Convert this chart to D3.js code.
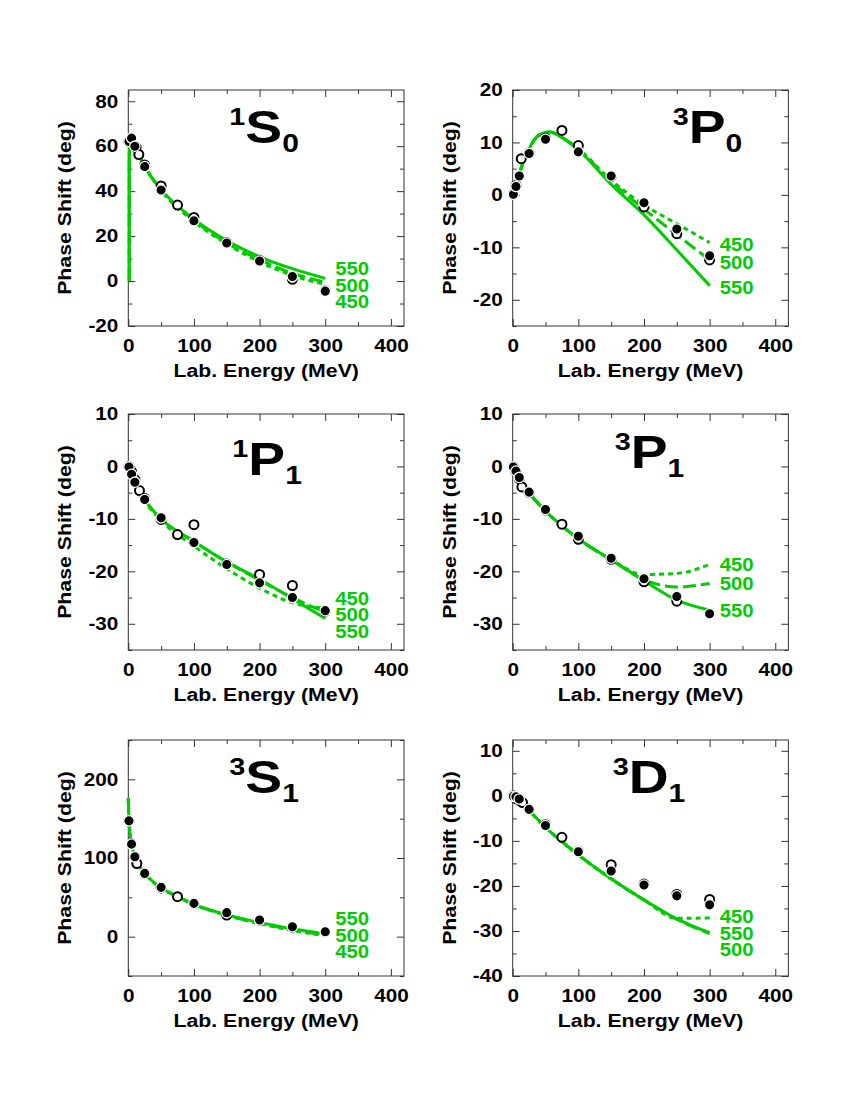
<!DOCTYPE html>
<html>
<head>
<meta charset="utf-8">
<script src="https://cdn.jsdelivr.net/npm/d3@7"></script>
<style>
body { margin: 0; background: #fff; }
</style>
</head>
<body>
<div id="chart"></div>
<script>
// ---- data ----
// 1S0
var s10FilledE = [1, 5, 10, 25, 50, 100, 150, 200, 250, 300];
var s10Filled  = [62.1, 63.6, 60.0, 50.9, 40.5, 26.8, 16.9, 8.9, 2.0, -4.5];
var s10OpenE   = [1, 12, 16, 25, 50, 75, 100, 150, 200, 250, 300];
var s10Open    = [62.0, 59.5, 56.3, 51.6, 42.3, 33.8, 28.3, 17.2, 9.2, 0.8, -4.3];
var s10CurveE  = [1.5, 1.6, 5, 10, 25, 50, 100, 150, 200, 250, 300];
var s10C450    = [0, 57, 63.5, 60, 51, 40.3, 26.5, 16.5, 8.5, 2.5, -1.5];
var s10C500    = [0, 57, 63.5, 60, 51, 40.5, 27.0, 17.0, 9.5, 3.5, -0.5];
var s10C550    = [0, 57, 63.5, 60, 51, 40.8, 27.5, 18.0, 10.8, 5.5, 1.2];

// 3P0
var p30FilledE = [1, 5, 10, 25, 50, 100, 150, 200, 250, 300];
var p30Filled  = [0.1, 1.6, 3.6, 7.9, 10.6, 8.2, 3.6, -1.5, -6.5, -11.6];
var p30OpenE   = [1, 5, 13, 25, 50, 75, 100, 150, 200, 250, 300];
var p30Open    = [0.2, 1.8, 6.9, 8.0, 10.8, 12.3, 9.4, 3.5, -2.3, -7.4, -12.4];
var p30CurveE  = [0, 5, 10, 25, 40, 57, 75, 100, 150, 200, 250, 300];
var p30C450    = [0, 1.8, 4.0, 8.8, 11.4, 12.0, 11.0, 8.8, 2.8, -1.9, -5.5, -9.1];
var p30C500    = [0, 1.8, 4.0, 8.8, 11.4, 12.0, 11.0, 8.7, 2.5, -2.7, -7.6, -12.4];
var p30C550    = [0, 1.8, 4.0, 8.8, 11.4, 12.0, 10.9, 8.6, 2.0, -3.8, -10.5, -17.3];

// 1P1
var p11FilledE = [1, 5, 10, 25, 50, 100, 150, 200, 250, 300];
var p11Filled  = [-0.1, -1.5, -3.0, -6.3, -9.8, -14.5, -18.7, -22.2, -25.0, -27.5];
var p11OpenE   = [1, 5, 10, 17, 25, 50, 75, 100, 150, 200, 250, 300];
var p11Open    = [0, -1.0, -2.5, -4.6, -6.1, -10.1, -13.0, -11.1, -18.6, -20.6, -22.7, -27.6];
var p11CurveE  = [0, 10, 25, 50, 100, 150, 200, 250, 300];
var p11C450    = [0, -2.8, -6.5, -10.3, -15.2, -19.5, -23.2, -26.0, -27.0];
var p11C500    = [0, -2.8, -6.3, -10.0, -14.3, -18.2, -21.7, -25.0, -27.8];
var p11C550    = [0, -2.8, -6.3, -10.0, -14.3, -18.2, -21.5, -25.2, -29.0];

// 3P1
var p31FilledE = [1, 5, 10, 25, 50, 100, 150, 200, 250, 300];
var p31Filled  = [-0.1, -0.9, -2.1, -4.9, -8.2, -13.3, -17.5, -21.4, -24.8, -28.1];
var p31OpenE   = [1, 5, 10, 14, 25, 50, 75, 100, 150, 200, 250];
var p31Open    = [0, -1.0, -2.3, -3.9, -5.0, -8.3, -11.0, -13.9, -17.7, -22.0, -25.7];
var p31CurveE  = [0, 10, 25, 50, 100, 150, 200, 250, 300];
var p31C450    = [0, -2.2, -5.0, -8.5, -13.8, -17.8, -20.6, -20.4, -18.7];
var p31C500    = [0, -2.2, -5.0, -8.5, -13.8, -17.8, -21.6, -23.0, -22.3];
var p31C550    = [0, -2.2, -5.0, -8.5, -13.8, -17.8, -21.8, -25.5, -27.4];

// 3S1
var s31FilledE = [1, 5, 10, 25, 50, 100, 150, 200, 250, 300];
var s31Filled  = [147.2, 117.6, 101.5, 80.4, 62.7, 42.3, 30.5, 21.2, 12.7, 6.3];
var s31OpenE   = [1, 5, 13, 25, 50, 75, 100, 150, 200, 250];
var s31Open    = [147, 118, 93, 80, 62, 50.8, 42, 27.5, 21, 12];
var s31CurveE  = [0, 1, 5, 10, 25, 50, 75, 100, 150, 200, 250, 300];
var s31C450    = [176, 148, 118, 102, 81, 62, 51, 41, 27, 16.5, 8, 1];
var s31C500    = [176, 148, 118, 102, 81, 62, 51, 41, 27.5, 17, 9, 2];
var s31C550    = [176, 148, 118, 102, 81, 62, 51, 41, 28, 18, 10, 3.5];

// 3D1
var d31FilledE = [1, 5, 10, 25, 50, 100, 150, 200, 250, 300];
var d31Filled  = [-0.1, -0.2, -0.7, -3.0, -6.6, -12.4, -16.7, -19.8, -22.2, -24.2];
var d31OpenE   = [1, 5, 10, 15, 25, 50, 75, 100, 150, 200, 250, 300];
var d31Open    = [0, -0.6, -1.0, -1.5, -3.0, -6.4, -9.2, -12.3, -15.3, -19.6, -21.9, -23.0];
var d31CurveE  = [0, 10, 25, 50, 100, 150, 200, 250, 300];
var d31C450    = [0, -1.2, -3.3, -7.0, -13.1, -18.4, -23.1, -27.2, -27.1];
var d31C500    = [0, -1.2, -3.3, -7.0, -13.1, -18.4, -23.1, -27.4, -30.6];
var d31C550    = [0, -1.2, -3.3, -7.0, -13.1, -18.4, -23.1, -27.3, -30.4];

var xTicks = [0, 100, 200, 300, 400];
var curveNames = ['450', '500', '550'];

// ---- layout ----
var FONT = '"Liberation Sans", Arial, Helvetica, sans-serif';
var GREEN = '#00cc00';
var colLeft = [128.3, 512.7];
var rowTop = [90, 414, 740];
var pw = 275.7, ph = 236;
var dashes = { '450': '5,4', '500': '13,5', '550': null };

var panels = [
  { sup: '1', main: 'S', sub: '0', col: 0, row: 0, yDomain: [-20, 85], yStep: 20,
    fE: s10FilledE, f: s10Filled, oE: s10OpenE, o: s10Open, cE: s10CurveE, c: [s10C450, s10C500, s10C550],
    titleX: 101, titleY: 53, labelShift: -10 },
  { sup: '3', main: 'P', sub: '0', col: 1, row: 0, yDomain: [-25, 20], yStep: 10,
    fE: p30FilledE, f: p30Filled, oE: p30OpenE, o: p30Open, cE: p30CurveE, c: [p30C450, p30C500, p30C550],
    titleX: 160, titleY: 53, labelShift: 2 },
  { sup: '1', main: 'P', sub: '1', col: 0, row: 1, yDomain: [-35, 10], yStep: 10,
    fE: p11FilledE, f: p11Filled, oE: p11OpenE, o: p11Open, cE: p11CurveE, c: [p11C450, p11C500, p11C550],
    titleX: 104, titleY: 61, labelShift: -10 },
  { sup: '3', main: 'P', sub: '1', col: 1, row: 1, yDomain: [-35, 10], yStep: 10,
    fE: p31FilledE, f: p31Filled, oE: p31OpenE, o: p31Open, cE: p31CurveE, c: [p31C450, p31C500, p31C550],
    titleX: 102, titleY: 54, labelShift: 0 },
  { sup: '3', main: 'S', sub: '1', col: 0, row: 2, yDomain: [-50, 250], yStep: 100,
    fE: s31FilledE, f: s31Filled, oE: s31OpenE, o: s31Open, cE: s31CurveE, c: [s31C450, s31C500, s31C550],
    titleX: 101, titleY: 53, labelShift: -15.5 },
  { sup: '3', main: 'D', sub: '1', col: 1, row: 2, yDomain: [-40, 12.4], yStep: 10,
    fE: d31FilledE, f: d31Filled, oE: d31OpenE, o: d31Open, cE: d31CurveE, c: [d31C450, d31C500, d31C550],
    titleX: 100, titleY: 53, labelShift: -1.5 }
];

var svg = d3.select('#chart').append('svg')
  .attr('width', 850).attr('height', 1100)
  .style('font-family', FONT).style('font-weight', 'bold');

var STRETCH = 1.15;
var plain = function (d) { return String(d); };

panels.forEach(function (p) {
  var g = svg.append('g')
    .attr('transform', 'translate(' + colLeft[p.col] + ',' + rowTop[p.row] + ')');

  var x = d3.scaleLinear().domain([0, 420]).range([0, pw]);
  var y = d3.scaleLinear().domain(p.yDomain).range([ph, 0]);

  var lo = Math.ceil(p.yDomain[0] / p.yStep) * p.yStep;
  var yMajor = d3.range(lo, p.yDomain[1] + 0.001, p.yStep);
  var yMinor = d3.range(Math.ceil(p.yDomain[0] / (p.yStep / 2)) * p.yStep / 2, p.yDomain[1] + 0.001, p.yStep / 2)
    .filter(function (v) { return yMajor.indexOf(v) < 0; });
  var xMinor = [50, 150, 250, 350];

  function styleAxis(a) {
    a.select('.domain').remove();
    a.attr('font-family', FONT).attr('font-size', 18).attr('font-weight', 'bold');
    a.selectAll('line').attr('stroke', '#333');
    a.selectAll('text').attr('fill', '#000');
  }

  // axes: labels on left/bottom, inward ticks on all sides
  g.append('g').attr('transform', 'translate(0,' + ph + ')')
    .call(d3.axisBottom(x).tickValues(xTicks).tickSize(-7).tickPadding(13).tickFormat(plain))
    .call(styleAxis)
    .selectAll('text').attr('transform', 'scale(' + STRETCH + ',1)');
  g.append('g').attr('transform', 'translate(0,' + ph + ')')
    .call(d3.axisBottom(x).tickValues(xMinor).tickSize(-4).tickFormat(''))
    .call(styleAxis);
  g.append('g')
    .call(d3.axisTop(x).tickValues(xTicks).tickSize(-7).tickFormat(''))
    .call(styleAxis);
  g.append('g')
    .call(d3.axisTop(x).tickValues(xMinor).tickSize(-4).tickFormat(''))
    .call(styleAxis);
  g.append('g')
    .call(d3.axisLeft(y).tickValues(yMajor).tickSize(-7).tickPadding(10 / STRETCH).tickFormat(plain))
    .call(styleAxis)
    .selectAll('text').attr('transform', 'scale(' + STRETCH + ',1)');
  g.append('g')
    .call(d3.axisLeft(y).tickValues(yMinor).tickSize(-4).tickFormat(''))
    .call(styleAxis);
  g.append('g').attr('transform', 'translate(' + pw + ',0)')
    .call(d3.axisRight(y).tickValues(yMajor).tickSize(-7).tickFormat(''))
    .call(styleAxis);
  g.append('g').attr('transform', 'translate(' + pw + ',0)')
    .call(d3.axisRight(y).tickValues(yMinor).tickSize(-4).tickFormat(''))
    .call(styleAxis);

  g.append('rect')
    .attr('width', pw).attr('height', ph)
    .attr('fill', 'none').attr('stroke', '#333').attr('stroke-width', 1);

  // axis titles
  g.append('text')
    .attr('transform', 'translate(' + pw / 2 + ',' + (ph + 51) + ') scale(' + STRETCH + ',1)')
    .attr('text-anchor', 'middle').attr('font-size', 18.5)
    .text('Lab. Energy (MeV)');
  g.append('text')
    .attr('transform', 'translate(' + (-57) + ',' + ph / 2 + ') rotate(-90) scale(' + STRETCH + ',1)')
    .attr('text-anchor', 'middle').attr('font-size', 18.5)
    .text('Phase Shift (deg)');

  // curves
  var line = d3.line()
    .x(function (d) { return x(d[0]); })
    .y(function (d) { return y(d[1]); })
    .curve(d3.curveMonotoneX);

  var ends = [];
  p.c.forEach(function (vals, i) {
    var pts = p.cE.map(function (e, j) { return [e, vals[j]]; });
    g.append('path')
      .attr('d', line(pts))
      .attr('fill', 'none')
      .attr('stroke', GREEN)
      .attr('stroke-width', 3)
      .attr('stroke-dasharray', dashes[curveNames[i]]);
    var last = pts[pts.length - 1];
    ends.push({ name: curveNames[i], e: last[0], py: y(last[1]) });
  });

  // curve labels stacked at the right end
  ends.sort(function (a, b) { return a.py - b.py; });
  var prev = -1e9;
  ends.forEach(function (d) {
    d.ly = Math.max(d.py, prev + 16.5);
    prev = d.ly;
  });
  g.selectAll('text.clab')
    .data(ends)
    .enter()
    .append('text')
    .attr('class', 'clab')
    .attr('transform', function (d) {
      return 'translate(' + (x(d.e) + 10) + ',' + (d.ly + p.labelShift) + ') scale(1.1,1)';
    })
    .attr('dy', '0.36em')
    .attr('font-size', 18.5)
    .attr('fill', GREEN)
    .text(function (d) { return d.name; });

  // open circles
  g.selectAll('circle.open')
    .data(p.oE.map(function (e, j) { return [e, p.o[j]]; }))
    .enter()
    .append('circle')
    .attr('class', 'open')
    .attr('cx', function (d) { return x(d[0]); })
    .attr('cy', function (d) { return y(d[1]); })
    .attr('r', 4.5)
    .attr('fill', '#fff')
    .attr('stroke', '#000')
    .attr('stroke-width', 2);

  // filled circles
  g.selectAll('circle.filled')
    .data(p.fE.map(function (e, j) { return [e, p.f[j]]; }))
    .enter()
    .append('circle')
    .attr('class', 'filled')
    .attr('cx', function (d) { return x(d[0]); })
    .attr('cy', function (d) { return y(d[1]); })
    .attr('r', 5.2)
    .attr('fill', '#000')
    .attr('stroke', '#fff')
    .attr('stroke-width', 1.3);

  // partial-wave title, e.g. 1S0
  var t = g.append('text')
    .attr('transform', 'translate(' + p.titleX + ',' + p.titleY + ') scale(1.2,1)');
  t.append('tspan').attr('font-size', 24).attr('dy', -18).text(p.sup);
  t.append('tspan').attr('font-size', 46).attr('dy', 18).text(p.main);
  t.append('tspan').attr('font-size', 25).attr('dy', 9).text(p.sub);
});
</script>
</body>
</html>
